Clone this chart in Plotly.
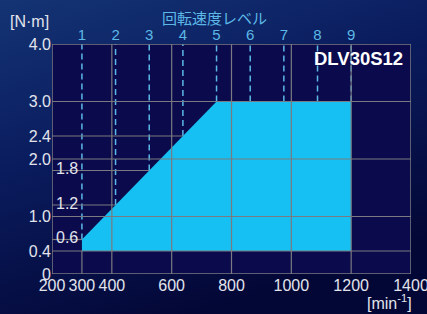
import base64
import plotly.graph_objects as go

# ---- data ----
level_names = ["1", "2", "3", "4", "5", "6", "7", "8", "9"]
level_speed = [300, 412.5, 525, 637.5, 750, 862.5, 975, 1087.5, 1200]
level_torque = [0.6, 1.2, 1.8, 2.4, 3.0, 3.0, 3.0, 3.0, 3.0]

region_speed = [300, 300, 750, 1200, 1200, 300]
region_torque = [0.4, 0.6, 3.0, 3.0, 0.4, 0.4]

x_ticks = [200, 300, 400, 600, 800, 1000, 1200, 1400]
y_ticks = [0, 0.4, 1.0, 2.0, 2.4, 3.0, 4.0]
y_tick_labels = ["0", "0.4", "1.0", "2.0", "2.4", "3.0", "4.0"]
inner_labels = ["0.6", "1.2", "1.8"]

h_grid_full = [0.4, 1.0, 2.0, 3.0]
v_grid_full = [400, 600, 800, 1000, 1200]
x_range = [200, 1400]
y_range = [0, 4]

model_name = "DLV30S12"
level_title = "回転速度レベル"

# ---- styles ----
FONT = "Liberation Sans Narrow, Liberation Sans, Arial, sans-serif"
GRID = "#7a7a80"
TICK_COL = "#e2e4ec"
LEVEL_COL = "#5cb8e6"
FILL_COL = "#16c0f2"
PLOT_BG = "#0a0a4c"

svg = (
    "<svg xmlns='http://www.w3.org/2000/svg' width='427' height='314'>"
    "<defs><linearGradient id='g' x1='0' y1='0' x2='0.45' y2='1'>"
    "<stop offset='0' stop-color='#143474'/>"
    "<stop offset='0.45' stop-color='#0a1c5e'/>"
    "<stop offset='1' stop-color='#030736'/>"
    "</linearGradient></defs>"
    "<rect width='427' height='314' fill='url(#g)'/></svg>"
)
bg_src = "data:image/svg+xml;base64," + base64.b64encode(svg.encode()).decode()

fig = go.Figure()

# operating region
fig.add_trace(go.Scatter(
    x=region_speed, y=region_torque, mode="lines", fill="toself",
    fillcolor=FILL_COL, line=dict(width=0, color=FILL_COL),
    hoverinfo="skip", showlegend=False,
))

# dashed level lines (on top axis)
for s, t in zip(level_speed, level_torque):
    fig.add_trace(go.Scatter(
        x=[s, s], y=[t, y_range[1]], mode="lines", xaxis="x2",
        line=dict(color=LEVEL_COL, width=1.5, dash="6px,4px"),
        hoverinfo="skip", showlegend=False,
    ))

shapes = []
shapes.append(dict(type="rect", xref="x", yref="y", x0=x_range[0], x1=x_range[1],
                   y0=y_range[0], y1=y_range[1], fillcolor=PLOT_BG,
                   line=dict(width=0), layer="below"))
for yv in h_grid_full:
    shapes.append(dict(type="line", xref="x", yref="y", x0=x_range[0], x1=x_range[1],
                       y0=yv, y1=yv, line=dict(color=GRID, width=1.2), layer="above"))
for s, t in zip(level_speed[:4], level_torque[:4]):
    shapes.append(dict(type="line", xref="x", yref="y", x0=x_range[0], x1=s,
                       y0=t, y1=t, line=dict(color=GRID, width=1.2), layer="above"))
for xv in v_grid_full:
    shapes.append(dict(type="line", xref="x", yref="y", x0=xv, x1=xv,
                       y0=y_range[0], y1=y_range[1], line=dict(color=GRID, width=1.2),
                       layer="above"))
shapes.append(dict(type="line", xref="x", yref="y", x0=level_speed[0], x1=level_speed[0],
                   y0=y_range[0], y1=region_torque[0], line=dict(color=GRID, width=1.2),
                   layer="above"))
shapes.append(dict(type="rect", xref="x", yref="y", x0=x_range[0], x1=x_range[1],
                   y0=y_range[0], y1=y_range[1], line=dict(color=GRID, width=1.5),
                   layer="above"))

annotations = [
    dict(text="[N·m]", xref="paper", yref="paper", x=-0.064, y=1.096,
         xanchor="center", yanchor="middle",
         showarrow=False, font=dict(family=FONT, size=16, color=TICK_COL)),
    dict(text="[min<sup>-1</sup>]", xref="paper", yref="paper", x=0.9415, y=-0.122,
         xanchor="center", yanchor="middle",
         showarrow=False, font=dict(family=FONT, size=16, color=TICK_COL)),
    dict(text=level_title, xref="paper", yref="paper", x=0.454, y=1.117,
         xanchor="center", yanchor="middle",
         showarrow=False, font=dict(family="Noto Sans CJK JP", size=15, color=LEVEL_COL)),
    dict(text="<b>" + model_name + "</b>", xref="paper", yref="paper", x=0.984, y=0.939,
         xanchor="right", yanchor="middle", showarrow=False,
         font=dict(family=FONT, size=18.5, color="#ffffff")),
]
for lab, t in zip(inner_labels, level_torque[:3]):
    annotations.append(dict(text=lab, xref="x", yref="y", x=x_range[0], y=t,
                            xanchor="left", yanchor="middle", xshift=2, yshift=2,
                            showarrow=False,
                            font=dict(family=FONT, size=16, color=TICK_COL)))

fig.update_layout(
    width=427, height=314,
    margin=dict(l=52, r=16, t=44, b=40, autoexpand=False),
    paper_bgcolor="#0a1a5a",
    plot_bgcolor="rgba(0,0,0,0)",
    showlegend=False,
    xaxis=dict(range=x_range, tickvals=x_ticks, ticktext=[str(v) for v in x_ticks],
               showgrid=False, zeroline=False, showline=False, ticks="",
               ticklabeloverflow="allow", tickangle=0, automargin=False,
               tickfont=dict(family=FONT, size=16, color=TICK_COL), fixedrange=True),
    xaxis2=dict(range=x_range, overlaying="x", side="top", tickvals=level_speed,
                ticktext=level_names, showgrid=False, zeroline=False, showline=False,
                ticks="", tickangle=0, automargin=False,
                tickfont=dict(family=FONT, size=15, color=LEVEL_COL),
                fixedrange=True),
    yaxis=dict(range=y_range, tickvals=y_ticks, ticktext=y_tick_labels,
               showgrid=False, zeroline=False, showline=False, ticks="",
               automargin=False,
               tickfont=dict(family=FONT, size=16, color=TICK_COL), fixedrange=True),
    shapes=shapes,
    annotations=annotations,
    images=[dict(source=bg_src, xref="paper", yref="paper",
                 x=-52 / 359, y=1 + 44 / 230, sizex=427 / 359, sizey=314 / 230,
                 sizing="stretch", xanchor="left", yanchor="top", layer="below")],
)

fig.write_html("out.html", config={"displayModeBar": False},
               post_script="document.body.style.margin='0';document.body.style.overflow='hidden';")
